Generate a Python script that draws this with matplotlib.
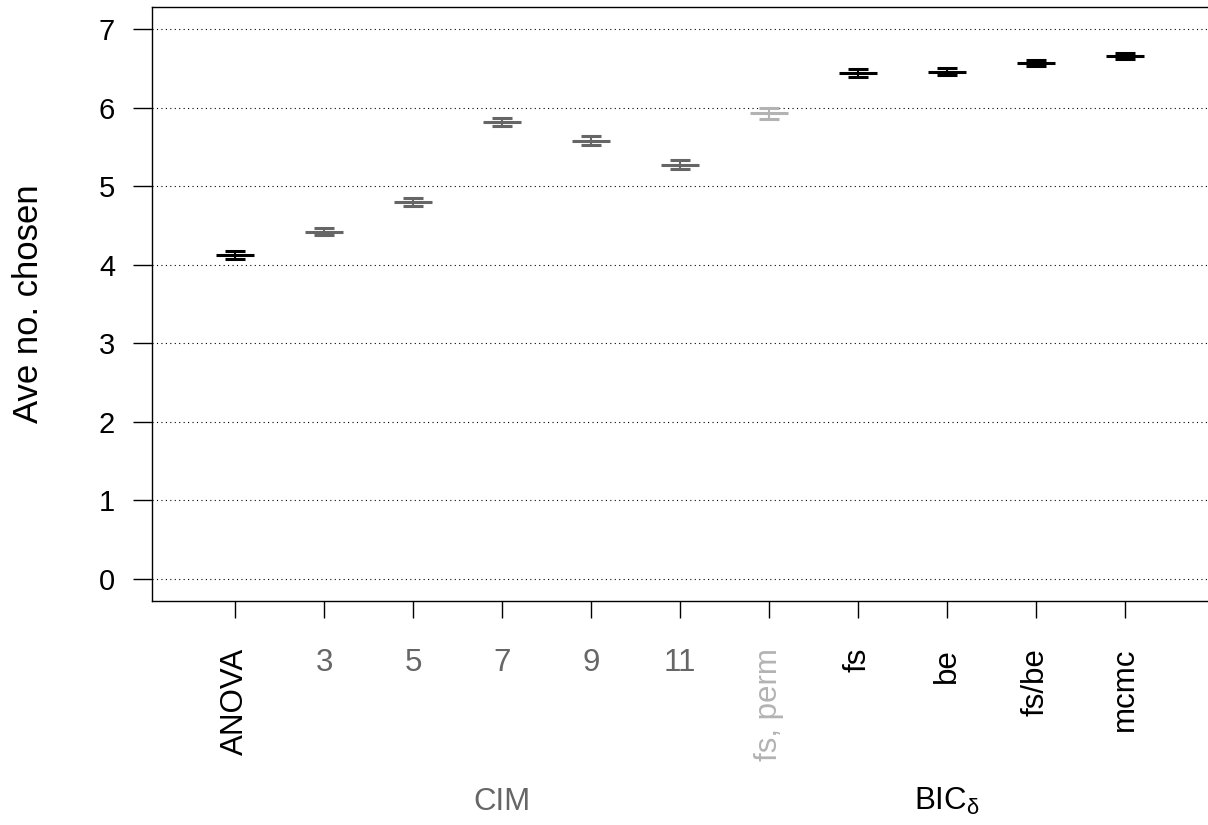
import matplotlib
matplotlib.use("Agg")
import matplotlib.pyplot as plt

plt.rcParams['font.family'] = ['Liberation Sans', 'DejaVu Sans']
plt.rcParams['mathtext.fontset'] = 'custom'
plt.rcParams['mathtext.rm'] = 'Liberation Sans'
plt.rcParams['mathtext.it'] = 'Liberation Sans'

methods = ["ANOVA", "3", "5", "7", "9", "11", "fs, perm", "fs", "be", "fs/be", "mcmc"]
means = [4.125, 4.42, 4.80, 5.815, 5.58, 5.275, 5.925, 6.44, 6.455, 6.565, 6.655]
ses = [0.05, 0.045, 0.05, 0.05, 0.055, 0.055, 0.065, 0.045, 0.045, 0.04, 0.035]
colors = ["black", "#666666", "#666666", "#666666", "#666666", "#666666",
          "#b3b3b3", "black", "black", "black", "black"]
rotated = [True, False, False, False, False, False, True, True, True, True, True]
groups = [("CIM", 4, "#666666"), (r"BIC$_\delta$", 9, "black")]

fig = plt.figure(figsize=(12.08, 8.25), dpi=100)
ax = fig.add_axes([152 / 1208, 1 - 601 / 825, (1208 - 152) / 1208, (601 - 7) / 825])

pos = list(range(1, len(methods) + 1))

for y in range(0, 8):
    ax.axhline(y, color="black", linestyle=(0, (1, 3)), linewidth=0.8, zorder=1)

for x, m, s, c in zip(pos, means, ses, colors):
    ax.hlines(m, x - 0.21, x + 0.21, color=c, linewidth=2.2, zorder=3)
    ax.hlines([m - s, m + s], x - 0.11, x + 0.11, color=c, linewidth=2.2, zorder=3)
    ax.vlines(x, m - s, m + s, color=c, linewidth=1.5, zorder=3)

ax.set_xlim(1 - 83 / 89, 1 + (1208 - 235) / 89)
ax.set_ylim(-0.28, 7.28)
ax.set_yticks(range(0, 8))
ax.set_xticks(pos)
ax.set_xticklabels([])
ax.tick_params(axis="y", labelsize=21, length=13.5, width=1.0, pad=13)
ax.tick_params(axis="x", length=12.5, width=1.0)
ax.spines["right"].set_visible(False)
for sp in ["left", "top", "bottom"]:
    ax.spines[sp].set_linewidth(1.0)

tr = ax.get_xaxis_transform()
for x, lab, c, r in zip(pos, methods, colors, rotated):
    ax.text(x, -0.079, lab, transform=tr, ha="center", va="top",
            rotation=90 if r else 0, fontsize=22.5, color=c)

for lab, x, c in groups:
    ax.text(x, -0.338, lab, transform=tr, ha="center", va="center",
            fontsize=22.5, color=c)

fig.text(29 / 1208, 1 - 304 / 825, "Ave no. chosen", rotation=90,
         ha="center", va="center", fontsize=25)

fig.savefig("out.png", dpi=100)
